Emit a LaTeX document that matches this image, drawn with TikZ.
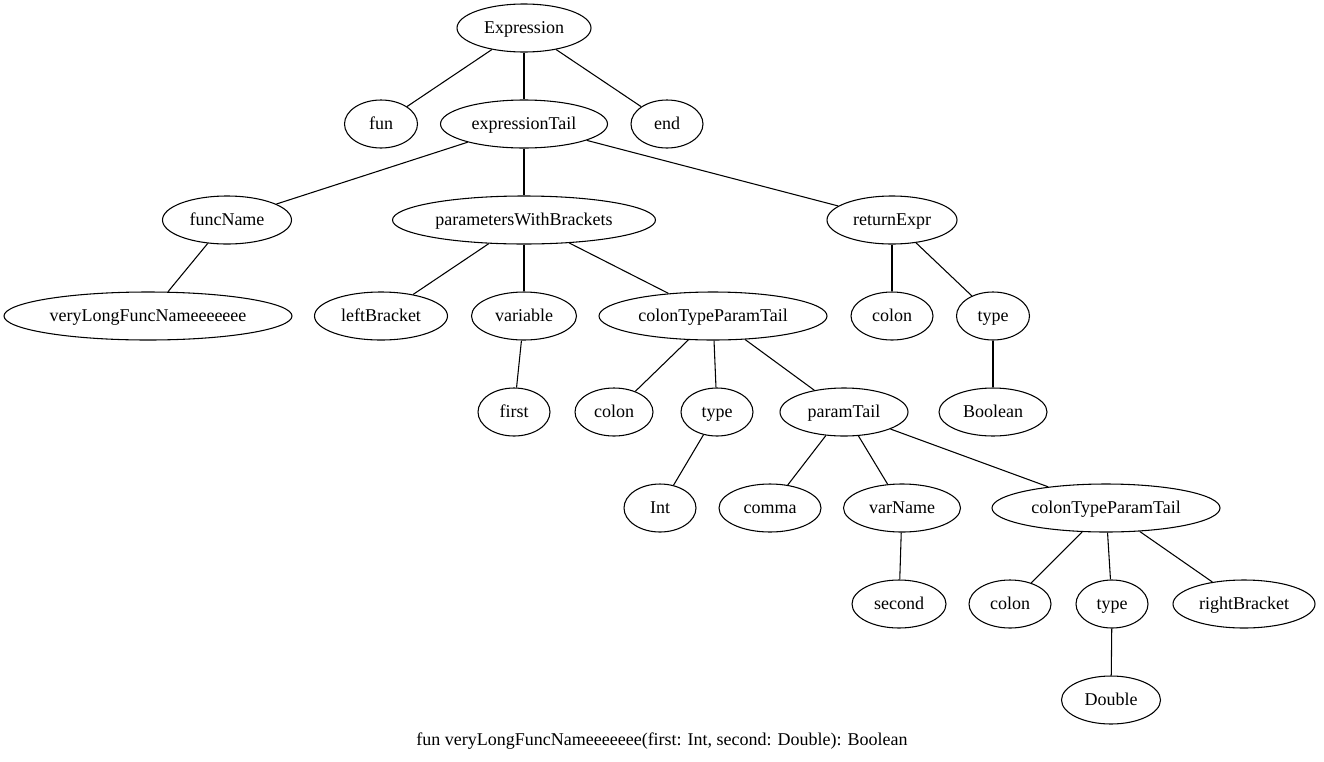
\documentclass[tikz,border=0pt]{standalone}
\usepackage{fontspec}
\setmainfont{Liberation Serif}
\usetikzlibrary{shapes.geometric}
\begin{document}
\begin{tikzpicture}[x=0.75pt, y=-0.75pt,
  every node/.style={font=\fontsize{13.5pt}{16pt}\selectfont},
  tn/.style={ellipse, draw, line width=0.8pt, inner sep=0pt,
             text height=10pt, text depth=2.5pt,
             minimum height=36pt, minimum width=#1*0.75pt},
  tn/.default=72,
  edge/.style={line width=0.8pt}]
\useasboundingbox (0,0) rectangle (1324,761);

% level 0
\node[tn=134] (expr) at (524,28) {Expression};
% level 1
\node[tn=73]  (fun)  at (381,124) {fun};
\node[tn=167] (etail) at (524,124) {expressionTail};
\node[tn=72]  (end)  at (667,124) {end};
% level 2
\node[tn=129] (fname) at (227,220) {funcName};
\node[tn=263] (pwb)   at (524,220) {parametersWithBrackets};
\node[tn=130] (ret)   at (892,220) {returnExpr};
% level 3
\node[tn=288] (vlong) at (148,316) {veryLongFuncNameeeeeee};
\node[tn=133] (lbr)   at (381,316) {leftBracket};
\node[tn=105] (var)   at (524,316) {variable};
\node[tn=228] (ctpt1) at (713,316) {colonTypeParamTail};
\node[tn=82]  (rcolon) at (892,316) {colon};
\node[tn=73]  (rtype) at (993,316) {type};
% level 4
\node[tn=72]  (first) at (514,412) {first};
\node[tn=78]  (colon1) at (614,412) {colon};
\node[tn=72]  (type1) at (717,412) {type};
\node[tn=128] (ptail) at (844,412) {paramTail};
\node[tn=108] (bool)  at (993,412) {Boolean};
% level 5
\node[tn=72]  (int)   at (660,508) {Int};
\node[tn=102] (comma) at (770,508) {comma};
\node[tn=117] (vname) at (902,508) {varName};
\node[tn=228] (ctpt2) at (1106,508) {colonTypeParamTail};
% level 6
\node[tn=94]  (second) at (899,604) {second};
\node[tn=82]  (colon2) at (1010,604) {colon};
\node[tn=72]  (type2) at (1112,604) {type};
\node[tn=142] (rbr)   at (1244,604) {rightBracket};
% level 7
\node[tn=99]  (double) at (1111,700) {Double};

% caption
\node[text height=10pt, text depth=2.5pt] (caption) at (662,740)
  {fun veryLongFuncNameeeeeee(first: Int, second: Double): Boolean};

% tree edges
\foreach \p/\c in {expr/fun, expr/etail, expr/end,
                   etail/fname, etail/pwb, etail/ret,
                   fname/vlong,
                   pwb/lbr, pwb/var, pwb/ctpt1,
                   ret/rcolon, ret/rtype,
                   var/first,
                   ctpt1/colon1, ctpt1/type1, ctpt1/ptail,
                   rtype/bool,
                   type1/int,
                   ptail/comma, ptail/vname, ptail/ctpt2,
                   vname/second,
                   ctpt2/colon2, ctpt2/type2, ctpt2/rbr,
                   type2/double}
  \draw[edge] (\p) -- (\c);
\end{tikzpicture}
\end{document}
